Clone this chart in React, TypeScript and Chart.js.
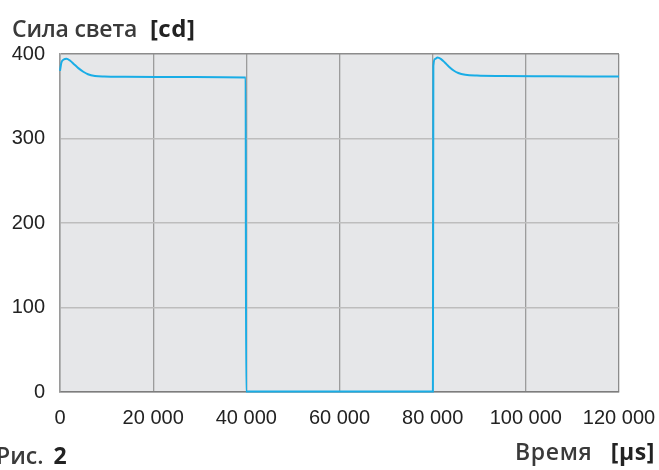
import React, { useEffect, useRef } from "react";
import { Chart, registerables } from "chart.js";

Chart.register(...registerables);

const timeUs = [
  0, 300, 800, 1400, 2200, 3000, 4000, 5000, 6000, 7500, 9500, 14000, 25000, 35000, 39850,
  39950, 60000, 80050,
  80150, 80500, 81050, 81800, 82600, 83500, 84500, 85500, 87000, 89500, 95000, 105000, 120000,
];
const intensityCd = [
  380, 390, 393.5, 394.5, 392, 388, 383, 379, 376, 374, 373.3, 373, 372.8, 372.5, 372.3,
  0.5, 0.5, 0.5,
  386, 394, 396, 394, 390, 385, 380.5, 377.5, 375.5, 374.5, 374, 373.7, 373.3,
];
const xTickValues = [0, 20000, 40000, 60000, 80000, 100000, 120000];
const xTickLabels = ["0", "20 000", "40 000", "60 000", "80 000", "100 000", "120 000"];
const yTickLabels = ["0", "100", "200", "300", "400"];

const plotBg = {
  id: "plotBg",
  beforeDraw(chart: any) {
    const { ctx, chartArea } = chart;
    ctx.save();
    ctx.fillStyle = "#e6e7e9";
    ctx.fillRect(chartArea.left, chartArea.top, chartArea.right - chartArea.left, chartArea.bottom - chartArea.top);
    ctx.restore();
  },
};

export default function App() {
  const ref = useRef<HTMLCanvasElement>(null);
  useEffect(() => {
    const chart = new Chart(ref.current!, {
      type: "line",
      data: {
        datasets: [
          {
            data: timeUs.map((t, i) => ({ x: t, y: intensityCd[i] })),
            borderColor: "#19ade6",
            borderWidth: 2,
            pointRadius: 0,
            cubicInterpolationMode: "monotone",
            fill: false,
            clip: 3,
          },
        ],
      },
      options: {
        animation: false,
        responsive: true,
        maintainAspectRatio: false,
        layout: { padding: { left: 0, top: 54, right: 40, bottom: 0 } },
        plugins: { legend: { display: false }, tooltip: { enabled: false } },
        scales: {
          x: {
            type: "linear",
            min: 0,
            max: 120000,
            afterFit: (s: any) => { s.height = 78; s.paddingLeft = 0; s.paddingRight = 0; },
            afterBuildTicks: (s: any) => { s.ticks = xTickValues.map((v) => ({ value: v })); },
            ticks: {
              padding: 14,
              maxRotation: 0,
              autoSkip: false,
              color: "#222",
              font: { family: "'Liberation Sans', Arial, sans-serif", size: 20 },
              callback: (_v: any, i: number) => xTickLabels[i],
            },
            grid: {
              drawTicks: false,
              color: (c: any) => (c.tick && (c.tick.value === 0 || c.tick.value === 120000) ? "#8c8c8c" : "#9c9c9c"),
              lineWidth: 1.3,
            },
            border: { color: "#7d7d7d", width: 1.5 },
          },
          y: {
            min: 0,
            max: 400,
            afterFit: (s: any) => { s.width = 60; s.paddingTop = 0; s.paddingBottom = 0; },
            ticks: {
              stepSize: 100,
              padding: 15,
              color: "#222",
              font: { family: "'Liberation Sans', Arial, sans-serif", size: 20 },
              callback: (_v: any, i: number) => yTickLabels[i],
            },
            grid: {
              drawTicks: false,
              color: (c: any) => (c.tick && c.tick.value === 400 ? "#8c8c8c" : "#bdbdbd"),
              lineWidth: 1.5,
            },
            border: { color: "#9a9a9a", width: 1.5 },
          },
        },
      },
      plugins: [plotBg],
    });
    return () => chart.destroy();
  }, []);

  const titleFont = "'Open Sans', 'Noto Sans', sans-serif";
  return (
    <div style={{ position: "absolute", left: 0, top: 0, width: 659, height: 470, background: "#fff", overflow: "hidden" }}>
      <canvas ref={ref} />
      <div style={{ position: "absolute", left: 12, top: 11, fontFamily: titleFont, fontSize: 23, fontWeight: 600, color: "#3a3a3a", whiteSpace: "nowrap", letterSpacing: -0.2 }}>
        Сила света <span style={{ fontWeight: 700, color: "#222", marginLeft: 7, fontSize: 24, letterSpacing: 0.5 }}>[cd]</span>
      </div>
      <div style={{ position: "absolute", left: -4, top: 439, fontFamily: titleFont, fontSize: 23, fontWeight: 600, color: "#3a3a3a", whiteSpace: "nowrap" }}>
        Рис. <span style={{ fontWeight: 700, color: "#222", marginLeft: 4 }}>2</span>
      </div>
      <div style={{ position: "absolute", right: 4, top: 435, fontFamily: titleFont, fontSize: 23, fontWeight: 600, color: "#3a3a3a", whiteSpace: "nowrap", letterSpacing: 0.6 }}>
        Время <span style={{ fontWeight: 700, color: "#222", marginLeft: 12 }}>[µs]</span>
      </div>
    </div>
  );
}
